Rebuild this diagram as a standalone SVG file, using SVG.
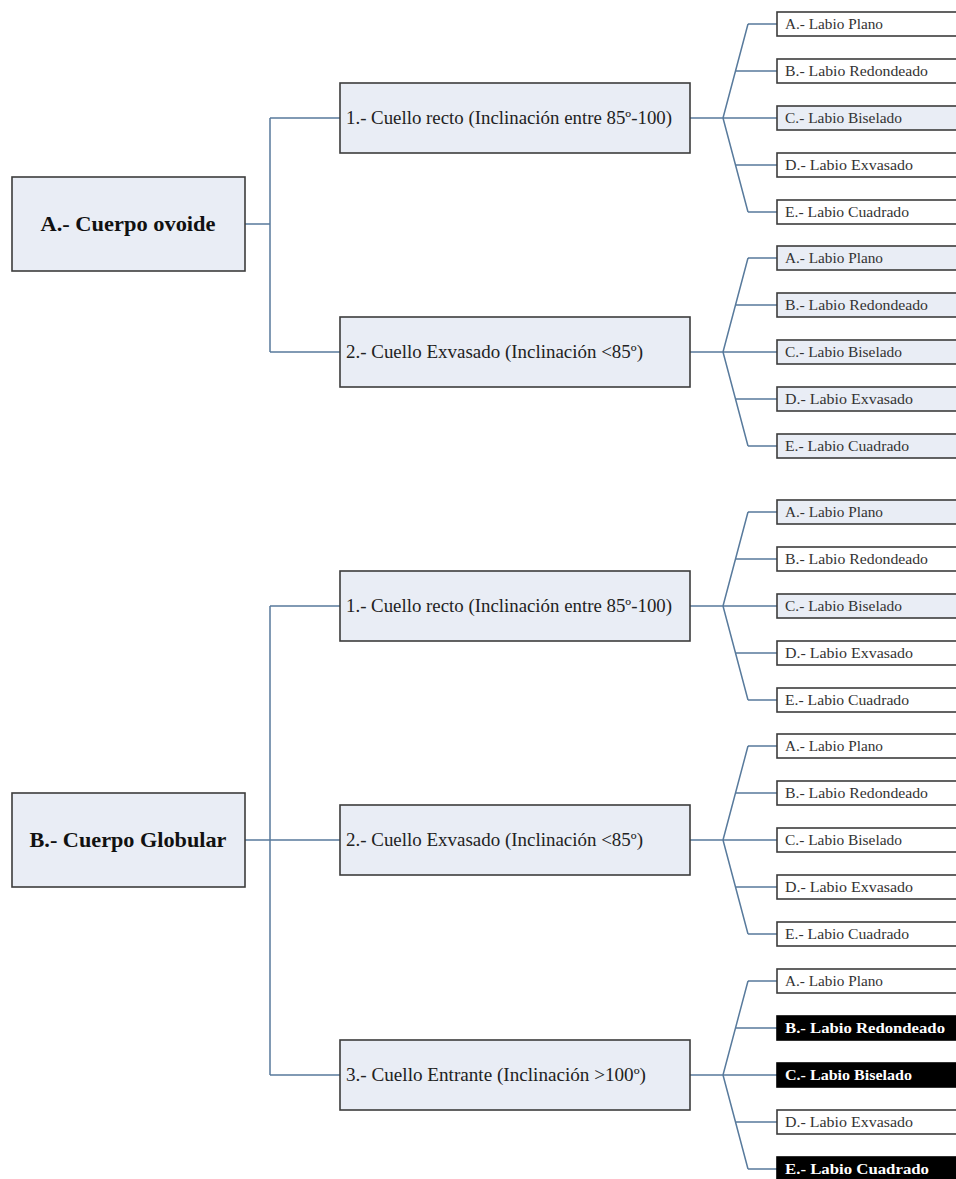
<svg xmlns="http://www.w3.org/2000/svg" width="956" height="1179" viewBox="0 0 956 1179">
<style>
.root{fill:#e9edf5;stroke:#3c3c3c;stroke-width:1.6}
.mid{fill:#e9edf5;stroke:#3c3c3c;stroke-width:1.6}
.lw{fill:#ffffff;stroke:#3c3c3c;stroke-width:1.6}
.lb{fill:#e9edf5;stroke:#3c3c3c;stroke-width:1.6}
.lk{fill:#000000;stroke:#000000;stroke-width:1.6}
.rt{font-family:"Liberation Serif",serif;font-weight:bold;font-size:22px;fill:#111;text-anchor:middle}
.mt{font-family:"Liberation Serif",serif;font-size:18px;fill:#222}
.ft{font-family:"Liberation Serif",serif;font-size:14px;fill:#333}
.fk{font-family:"Liberation Serif",serif;font-size:14px;font-weight:bold;fill:#fff}
.c{fill:none;stroke:#587a9c;stroke-width:1.5}
</style>
<rect width="956" height="1179" fill="#ffffff"/>
<g id="connectors">
<path class="c" d="M245 224H270M270 118V352M270 118H340M270 352H340"/>
<path class="c" d="M245 840H270M270 606V1075M270 606H340M270 840H340M270 1075H340"/>
<path class="c" d="M690 118H777M723 118L748 24M723 118L748 212M748 24H777M736 71H777M736 165H777M748 212H777"/>
<path class="c" d="M690 352H777M723 352L748 258M723 352L748 446M748 258H777M736 305H777M736 399H777M748 446H777"/>
<path class="c" d="M690 606H777M723 606L748 512M723 606L748 700M748 512H777M736 559H777M736 653H777M748 700H777"/>
<path class="c" d="M690 840H777M723 840L748 746M723 840L748 934M748 746H777M736 793H777M736 887H777M748 934H777"/>
<path class="c" d="M690 1075H777M723 1075L748 981M723 1075L748 1169M748 981H777M736 1028H777M736 1122H777M748 1169H777"/>
</g>
<g id="rootA"><rect class="root" x="12" y="177" width="233" height="94"/><text class="rt" x="128" y="231" textLength="175" lengthAdjust="spacingAndGlyphs">A.- Cuerpo ovoide</text></g>
<g id="rootB"><rect class="root" x="12" y="793" width="233" height="94"/><text class="rt" x="128" y="847" textLength="197" lengthAdjust="spacingAndGlyphs">B.- Cuerpo Globular</text></g>
<g id="midA1"><rect class="mid" x="340" y="83" width="350" height="70"/><text class="mt" x="346" y="124" textLength="326" lengthAdjust="spacingAndGlyphs">1.- Cuello recto (Inclinación entre 85º-100)</text></g>
<g id="midA2"><rect class="mid" x="340" y="317" width="350" height="70"/><text class="mt" x="346" y="358" textLength="297" lengthAdjust="spacingAndGlyphs">2.- Cuello Exvasado (Inclinación &lt;85º)</text></g>
<g id="midB1"><rect class="mid" x="340" y="571" width="350" height="70"/><text class="mt" x="346" y="612" textLength="326" lengthAdjust="spacingAndGlyphs">1.- Cuello recto (Inclinación entre 85º-100)</text></g>
<g id="midB2"><rect class="mid" x="340" y="805" width="350" height="70"/><text class="mt" x="346" y="846" textLength="297" lengthAdjust="spacingAndGlyphs">2.- Cuello Exvasado (Inclinación &lt;85º)</text></g>
<g id="midB3"><rect class="mid" x="340" y="1040" width="350" height="70"/><text class="mt" x="346" y="1081" textLength="300" lengthAdjust="spacingAndGlyphs">3.- Cuello Entrante (Inclinación &gt;100º)</text></g>
<g id="leafA1a"><rect class="lw" x="777" y="12" width="190" height="24"/><text class="ft" x="785" y="29" textLength="98" lengthAdjust="spacingAndGlyphs">A.- Labio Plano</text></g>
<g id="leafA1b"><rect class="lw" x="777" y="59" width="190" height="24"/><text class="ft" x="785" y="76" textLength="143" lengthAdjust="spacingAndGlyphs">B.- Labio Redondeado</text></g>
<g id="leafA1c"><rect class="lb" x="777" y="106" width="190" height="24"/><text class="ft" x="785" y="123" textLength="117" lengthAdjust="spacingAndGlyphs">C.- Labio Biselado</text></g>
<g id="leafA1d"><rect class="lw" x="777" y="153" width="190" height="24"/><text class="ft" x="785" y="170" textLength="128" lengthAdjust="spacingAndGlyphs">D.- Labio Exvasado</text></g>
<g id="leafA1e"><rect class="lw" x="777" y="200" width="190" height="24"/><text class="ft" x="785" y="217" textLength="124" lengthAdjust="spacingAndGlyphs">E.- Labio Cuadrado</text></g>
<g id="leafA2a"><rect class="lb" x="777" y="246" width="190" height="24"/><text class="ft" x="785" y="263" textLength="98" lengthAdjust="spacingAndGlyphs">A.- Labio Plano</text></g>
<g id="leafA2b"><rect class="lb" x="777" y="293" width="190" height="24"/><text class="ft" x="785" y="310" textLength="143" lengthAdjust="spacingAndGlyphs">B.- Labio Redondeado</text></g>
<g id="leafA2c"><rect class="lb" x="777" y="340" width="190" height="24"/><text class="ft" x="785" y="357" textLength="117" lengthAdjust="spacingAndGlyphs">C.- Labio Biselado</text></g>
<g id="leafA2d"><rect class="lb" x="777" y="387" width="190" height="24"/><text class="ft" x="785" y="404" textLength="128" lengthAdjust="spacingAndGlyphs">D.- Labio Exvasado</text></g>
<g id="leafA2e"><rect class="lb" x="777" y="434" width="190" height="24"/><text class="ft" x="785" y="451" textLength="124" lengthAdjust="spacingAndGlyphs">E.- Labio Cuadrado</text></g>
<g id="leafB1a"><rect class="lb" x="777" y="500" width="190" height="24"/><text class="ft" x="785" y="517" textLength="98" lengthAdjust="spacingAndGlyphs">A.- Labio Plano</text></g>
<g id="leafB1b"><rect class="lw" x="777" y="547" width="190" height="24"/><text class="ft" x="785" y="564" textLength="143" lengthAdjust="spacingAndGlyphs">B.- Labio Redondeado</text></g>
<g id="leafB1c"><rect class="lb" x="777" y="594" width="190" height="24"/><text class="ft" x="785" y="611" textLength="117" lengthAdjust="spacingAndGlyphs">C.- Labio Biselado</text></g>
<g id="leafB1d"><rect class="lw" x="777" y="641" width="190" height="24"/><text class="ft" x="785" y="658" textLength="128" lengthAdjust="spacingAndGlyphs">D.- Labio Exvasado</text></g>
<g id="leafB1e"><rect class="lw" x="777" y="688" width="190" height="24"/><text class="ft" x="785" y="705" textLength="124" lengthAdjust="spacingAndGlyphs">E.- Labio Cuadrado</text></g>
<g id="leafB2a"><rect class="lw" x="777" y="734" width="190" height="24"/><text class="ft" x="785" y="751" textLength="98" lengthAdjust="spacingAndGlyphs">A.- Labio Plano</text></g>
<g id="leafB2b"><rect class="lw" x="777" y="781" width="190" height="24"/><text class="ft" x="785" y="798" textLength="143" lengthAdjust="spacingAndGlyphs">B.- Labio Redondeado</text></g>
<g id="leafB2c"><rect class="lw" x="777" y="828" width="190" height="24"/><text class="ft" x="785" y="845" textLength="117" lengthAdjust="spacingAndGlyphs">C.- Labio Biselado</text></g>
<g id="leafB2d"><rect class="lw" x="777" y="875" width="190" height="24"/><text class="ft" x="785" y="892" textLength="128" lengthAdjust="spacingAndGlyphs">D.- Labio Exvasado</text></g>
<g id="leafB2e"><rect class="lw" x="777" y="922" width="190" height="24"/><text class="ft" x="785" y="939" textLength="124" lengthAdjust="spacingAndGlyphs">E.- Labio Cuadrado</text></g>
<g id="leafB3a"><rect class="lw" x="777" y="969" width="190" height="24"/><text class="ft" x="785" y="986" textLength="98" lengthAdjust="spacingAndGlyphs">A.- Labio Plano</text></g>
<g id="leafB3b"><rect class="lk" x="777" y="1016" width="190" height="24"/><text class="fk" x="785" y="1033" textLength="160" lengthAdjust="spacingAndGlyphs">B.- Labio Redondeado</text></g>
<g id="leafB3c"><rect class="lk" x="777" y="1063" width="190" height="24"/><text class="fk" x="785" y="1080" textLength="127" lengthAdjust="spacingAndGlyphs">C.- Labio Biselado</text></g>
<g id="leafB3d"><rect class="lw" x="777" y="1110" width="190" height="24"/><text class="ft" x="785" y="1127" textLength="128" lengthAdjust="spacingAndGlyphs">D.- Labio Exvasado</text></g>
<g id="leafB3e"><rect class="lk" x="777" y="1157" width="190" height="24"/><text class="fk" x="785" y="1174" textLength="144" lengthAdjust="spacingAndGlyphs">E.- Labio Cuadrado</text></g>
</svg>
